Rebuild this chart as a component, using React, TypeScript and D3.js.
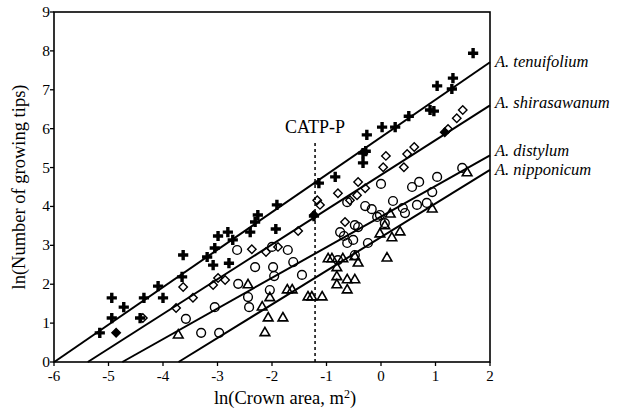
import React from "react";
import * as d3 from "d3";

// ln(crown area) vs ln(growing tips), four Acer species
const speciesNames = ["A. tenuifolium", "A. shirasawanum", "A. distylum", "A. nipponicum"];
const lineIntercepts = [5.78, 4.81, 3.74, 3.21];
const lineSlopes = [0.964, 0.894, 0.788, 0.864];

const xTicks = [-6, -5, -4, -3, -2, -1, 0, 1, 2];
const yTicks = [0, 1, 2, 3, 4, 5, 6, 7, 8, 9];

const catpX = -1.21;
const catpTop = 5.63;

const tenuifoliumX = [-5.16, -4.94, -4.94, -4.72, -4.35, -4.42, -4.09, -4.0, -3.65, -3.63, -3.19, -3.08, -3.05, -2.99, -2.79, -2.81, -2.72, -2.4, -2.31, -2.26, -1.91, -1.93, -1.23, -1.14, -0.84, -0.33, -0.28, -0.33, -0.26, 0.02, 0.26, 0.51, 0.9, 0.97, 1.03, 1.32, 1.3, 1.69];
const tenuifoliumY = [0.75, 1.65, 1.13, 1.41, 1.65, 1.13, 1.95, 1.65, 2.19, 2.75, 2.7, 2.49, 2.93, 3.24, 2.54, 3.34, 3.14, 3.34, 3.6, 3.78, 4.04, 3.42, 3.75, 4.6, 4.76, 5.37, 5.42, 5.12, 5.84, 6.04, 6.04, 6.32, 6.48, 6.45, 7.1, 7.3, 7.02, 7.94];

const shirasawanumX = [-4.86, -4.37, -3.76, -3.63, -3.45, -3.08, -2.99, -2.86, -2.37, -2.11, -1.89, -1.52, -1.23, -1.17, -1.12, -0.79, -0.66, -0.57, -0.44, -0.42, -0.29, 0.04, 0.09, 0.42, 0.48, 0.61, 1.17, 1.23, 1.39, 1.5];
const shirasawanumY = [0.75, 1.13, 1.39, 1.93, 1.65, 1.98, 2.16, 2.11, 2.9, 2.83, 2.96, 3.37, 3.78, 4.16, 4.04, 4.34, 3.6, 4.16, 4.29, 4.63, 4.47, 5.01, 5.3, 5.01, 5.35, 5.53, 5.91, 5.99, 6.27, 6.48];
// points that print solid (overlapping marks)
const shirasawanumSolid = [0, 12, 26];

const distylumX = [-3.58, -3.3, -2.97, -3.05, -2.64, -2.62, -2.44, -2.42, -2.31, -2.04, -2.0, -1.98, -1.96, -1.71, -1.61, -1.45, -0.75, -0.68, -0.62, -0.48, -0.51, -0.24, -0.48, -0.79, -0.62, -0.29, -0.02, 0.07, 0.22, 0.4, 0.44, 0.66, 0.84, 0.94, 0.0, 0.57, 0.7, 1.03, 1.49, -0.17, -0.42, -0.07];
const distylumY = [1.11, 0.75, 0.75, 1.41, 2.88, 2.01, 1.67, 1.41, 2.44, 1.85, 2.96, 2.44, 2.21, 2.88, 2.57, 2.24, 3.34, 3.24, 3.06, 3.52, 3.14, 3.06, 2.75, 2.62, 4.11, 4.01, 3.78, 3.57, 4.14, 3.96, 3.83, 4.04, 4.09, 4.37, 4.58, 4.5, 4.63, 4.76, 4.99, 3.93, 3.47, 3.73];

const nipponicumX = [-3.72, -2.44, -2.13, -2.07, -2.18, -2.04, -1.8, -1.72, -1.63, -1.34, -1.27, -1.08, -0.97, -0.9, -0.81, -0.81, -0.81, -0.7, -0.62, -0.48, -0.62, -0.48, -0.42, 0.11, -0.02, 0.2, 0.35, 0.17, 0.07, 0.94, 1.58];
const nipponicumY = [0.69, 1.98, 0.75, 1.13, 1.41, 1.65, 1.13, 1.85, 1.85, 1.67, 1.67, 1.67, 2.65, 2.65, 2.42, 2.19, 1.98, 2.65, 2.11, 2.11, 1.85, 2.7, 2.54, 2.67, 3.29, 3.19, 3.34, 3.8, 3.5, 3.93, 4.86];

const W = 631, H = 412;
const serif = "'Liberation Serif', 'Times New Roman', serif";
const labelShift = [5, 3, 1, 5];

export default function App() {
  const x = d3.scaleLinear().domain([-6, 2]).range([54, 490]);
  const y = d3.scaleLinear().domain([0, 9]).range([362, 12]);

  const crossPath = d3.symbol(d3.symbolCross, 58)()!;
  const squarePath = d3.symbol(d3.symbolSquare, 36)()!;
  const triPath = d3.symbol(d3.symbolTriangle, 40)()!;

  const line = d3.line<number[]>().x((d) => x(d[0])).y((d) => y(d[1]));

  const fits = lineIntercepts.map((a, i) => {
    const b = lineSlopes[i];
    const x0 = -a / b;
    return [[x0, 0], [2, a + b * 2]];
  });

  return (
    <svg width={W} height={H} style={{ position: "absolute", left: 0, top: 0, background: "#fff" }}
      fontFamily={serif}>
      {/* frame */}
      <rect x={x(-6)} y={y(9)} width={x(2) - x(-6)} height={y(0) - y(9)}
        fill="none" stroke="#000" strokeWidth={1.6} />

      {/* ticks */}
      {xTicks.map((t) => (
        <g key={"xt" + t}>
          <line x1={x(t)} x2={x(t)} y1={y(0)} y2={y(0) + 4} stroke="#000" strokeWidth={1.3} />
          <text x={x(t)} y={y(0) + 19} textAnchor="middle" fontSize={15}>{t}</text>
        </g>
      ))}
      {yTicks.map((t) => (
        <g key={"yt" + t}>
          <line x1={x(-6) - 4} x2={x(-6)} y1={y(t)} y2={y(t)} stroke="#000" strokeWidth={1.3} />
          <text x={x(-6) - 4} y={y(t) + 5} textAnchor="end" fontSize={15.5}>{t}</text>
        </g>
      ))}

      {/* axis titles */}
      <text x={285} y={404} textAnchor="middle" fontSize={18.5}>
        ln(Crown area, m<tspan dy={-6} fontSize={12}>2</tspan><tspan dy={6}>)</tspan>
      </text>
      <text transform={`translate(25,${187}) rotate(-90)`} textAnchor="middle" fontSize={18.5}>
        ln(Number of growing tips)
      </text>

      {/* CATP-P */}
      <line x1={x(catpX)} x2={x(catpX)} y1={y(0)} y2={y(catpTop)} stroke="#000"
        strokeWidth={1.5} strokeDasharray="3,3" />
      <text x={x(catpX)} y={y(catpTop) - 10} textAnchor="middle" fontSize={18}>CATP-P</text>

      {/* regression lines */}
      {fits.map((f, i) => (
        <path key={"fit" + i} d={line(f)!} fill="none" stroke="#000" strokeWidth={2} />
      ))}
      {fits.map((f, i) => (
        <text key={"lab" + i} x={x(2) + 5} y={y(f[1][1]) + labelShift[i]} fontSize={16.5} fontStyle="italic">
          {speciesNames[i]}
        </text>
      ))}

      {/* points */}
      {nipponicumX.map((v, i) => (
        <path key={"n" + i} d={triPath} transform={`translate(${x(v)},${y(nipponicumY[i])})`}
          fill="none" stroke="#000" strokeWidth={1.6} />
      ))}
      {distylumX.map((v, i) => (
        <circle key={"d" + i} cx={x(v)} cy={y(distylumY[i])} r={4.4}
          fill="none" stroke="#000" strokeWidth={1.4} />
      ))}
      {shirasawanumX.map((v, i) => (
        <path key={"s" + i} d={squarePath}
          transform={`translate(${x(v)},${y(shirasawanumY[i])}) rotate(45)`}
          fill={shirasawanumSolid.includes(i) ? "#000" : "none"} stroke="#000" strokeWidth={1.4} />
      ))}
      {tenuifoliumX.map((v, i) => (
        <path key={"t" + i} d={crossPath} transform={`translate(${x(v)},${y(tenuifoliumY[i])})`}
          fill="#000" />
      ))}
    </svg>
  );
}
